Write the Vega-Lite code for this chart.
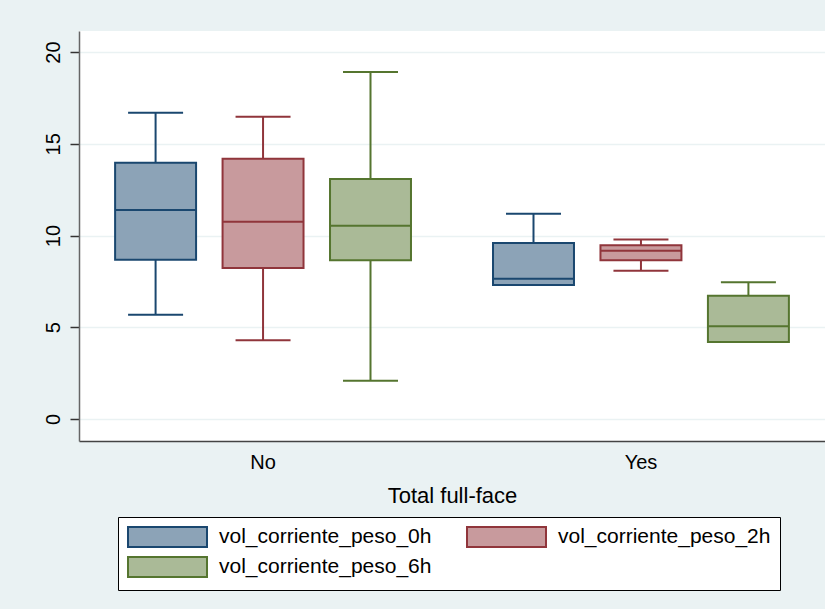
{
  "$schema": "https://vega.github.io/schema/vega-lite/v6.json",
  "width": 746,
  "height": 410,
  "autosize": "none",
  "padding": {"left": 79, "top": 31, "right": 0, "bottom": 168},
  "background": "#EAF2F3",
  "config": {
    "view": {"fill": "white", "stroke": null},
    "font": "Liberation Sans"
  },
  "data": {
    "values": [
      {"group": "No", "series": "vol_corriente_peso_0h", "lower": 5.68, "q1": 8.68, "median": 11.39, "q3": 13.97, "upper": 16.69},
      {"group": "No", "series": "vol_corriente_peso_2h", "lower": 4.29, "q1": 8.23, "median": 10.75, "q3": 14.18, "upper": 16.47},
      {"group": "No", "series": "vol_corriente_peso_6h", "lower": 2.09, "q1": 8.65, "median": 10.53, "q3": 13.08, "upper": 18.91},
      {"group": "Yes", "series": "vol_corriente_peso_0h", "lower": 7.3, "q1": 7.3, "median": 7.65, "q3": 9.59, "upper": 11.19},
      {"group": "Yes", "series": "vol_corriente_peso_2h", "lower": 8.08, "q1": 8.65, "median": 9.17, "q3": 9.47, "upper": 9.79},
      {"group": "Yes", "series": "vol_corriente_peso_6h", "lower": 4.2, "q1": 4.2, "median": 5.05, "q3": 6.72, "upper": 7.45}
    ]
  },
  "encoding": {
    "x": {
      "field": "group", "type": "nominal",
      "scale": {"paddingInner": 0.2, "paddingOuter": 0.087},
      "axis": {
        "title": "Total full-face", "labelAngle": 0, "labelFontSize": 20, "labelColor": "black",
        "titleFontSize": 22, "titleFontWeight": "normal", "titleColor": "black",
        "ticks": false, "labelPadding": 11, "titlePadding": 13,
        "domainColor": "#444", "domainWidth": 1.5, "grid": false
      }
    },
    "xOffset": {
      "field": "series", "type": "nominal",
      "scale": {"paddingInner": 0.2465, "paddingOuter": 0.03}
    },
    "y": {
      "type": "quantitative",
      "scale": {"domain": [-1.2, 21.15], "nice": false, "zero": false},
      "axis": {
        "title": null, "values": [0, 5, 10, 15, 20], "labelAngle": -90, "labelAlign": "center", "labelBaseline": "bottom",
        "labelFontSize": 20, "labelColor": "black", "labelPadding": 7,
        "tickSize": 9, "tickColor": "#333", "tickWidth": 1.5,
        "domainColor": "#666", "domainWidth": 1.5,
        "grid": true, "gridColor": "#EAF2F3", "gridWidth": 1.5
      }
    }
  },
  "layer": [
    {
      "mark": {"type": "rule", "strokeWidth": 2},
      "encoding": {
        "y": {"field": "lower", "type": "quantitative"},
        "y2": {"field": "upper"},
        "color": {"field": "series", "type": "nominal", "legend": null,
          "scale": {"range": ["#1A476F", "#90353B", "#55752F"]}}
      }
    },
    {
      "mark": {"type": "bar", "strokeWidth": 2, "opacity": 1},
      "encoding": {
        "y": {"field": "q1", "type": "quantitative"},
        "y2": {"field": "q3"},
        "fill": {"field": "series", "type": "nominal", "title": null,
          "scale": {"range": ["#8CA3B7", "#C89A9D", "#AABA97"]},
          "legend": {
            "orient": "none", "legendX": 39, "legendY": 486, "columns": 2,
            "direction": "horizontal",
            "symbolType": "M-1,-1L6.9,-1L6.9,1L-1,1Z", "symbolSize": 400,
            "symbolStrokeWidth": 2, "labelFontSize": 21, "labelColor": "black", "labelLimit": 400,
            "labelOffset": 70, "columnPadding": 31, "rowPadding": 2, "padding": 9,
            "strokeColor": "black", "fillColor": "white"
          }},
        "stroke": {"field": "series", "type": "nominal", "title": null,
          "scale": {"range": ["#1A476F", "#90353B", "#55752F"]},
          "legend": {
            "orient": "none", "legendX": 39, "legendY": 486, "columns": 2,
            "direction": "horizontal",
            "symbolType": "M-1,-1L6.9,-1L6.9,1L-1,1Z", "symbolSize": 400,
            "symbolStrokeWidth": 2, "labelFontSize": 21, "labelColor": "black", "labelLimit": 400,
            "labelOffset": 70, "columnPadding": 31, "rowPadding": 2, "padding": 9,
            "strokeColor": "black", "fillColor": "white"
          }}
      }
    },
    {
      "mark": {"type": "tick", "size": 81, "thickness": 2, "opacity": 1},
      "encoding": {
        "y": {"field": "median", "type": "quantitative"},
        "color": {"field": "series", "type": "nominal", "legend": null}
      }
    },
    {
      "mark": {"type": "tick", "size": 55, "thickness": 2, "opacity": 1},
      "encoding": {
        "y": {"field": "upper", "type": "quantitative"},
        "color": {"field": "series", "type": "nominal", "legend": null}
      }
    },
    {
      "mark": {"type": "tick", "size": 55, "thickness": 2, "opacity": 1},
      "encoding": {
        "y": {"field": "lower", "type": "quantitative"},
        "color": {"field": "series", "type": "nominal", "legend": null}
      }
    }
  ]
}
